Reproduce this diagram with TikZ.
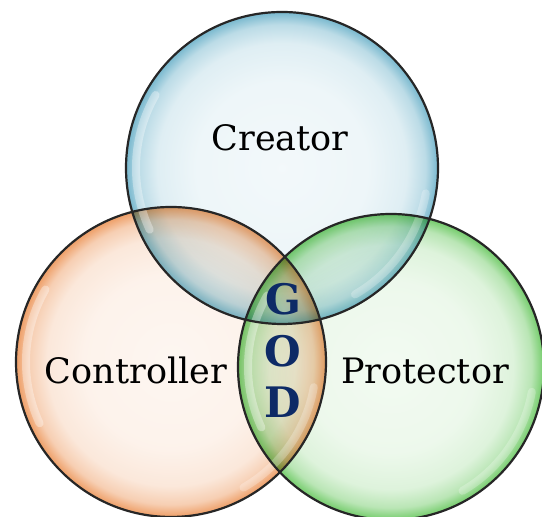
\documentclass[tikz,border=0pt]{standalone}
\usepackage{fontspec}
\setmainfont{DejaVu Serif}
\definecolor{creatorcol}{HTML}{78B8CE}
\definecolor{controlcol}{HTML}{EE9E66}
\definecolor{protectcol}{HTML}{74CC6B}
\definecolor{godblue}{HTML}{0D2A66}
\pgfdeclareradialshading{creatorshade}{\pgfpoint{0bp}{0bp}}{color(0bp)=(creatorcol!9!white); color(14bp)=(creatorcol!13!white); color(20bp)=(creatorcol!24!white); color(23bp)=(creatorcol!50!white); color(25bp)=(creatorcol); color(50bp)=(creatorcol)}
\pgfdeclareradialshading{controlshade}{\pgfpoint{0bp}{0bp}}{color(0bp)=(controlcol!9!white); color(14bp)=(controlcol!13!white); color(20bp)=(controlcol!24!white); color(23bp)=(controlcol!50!white); color(25bp)=(controlcol); color(50bp)=(controlcol)}
\pgfdeclareradialshading{protectshade}{\pgfpoint{0bp}{0bp}}{color(0bp)=(protectcol!9!white); color(14bp)=(protectcol!13!white); color(20bp)=(protectcol!24!white); color(23bp)=(protectcol!50!white); color(25bp)=(protectcol); color(50bp)=(protectcol)}
\begin{document}
\begin{tikzpicture}[x=0.5pt,y=0.5pt,
	bubble/.style={blend mode=multiply},
	rim/.style={draw=black!85,line width=1.1pt},
	gloss/.style={draw=white,line width=4pt,opacity=0.35,line cap=round},
	lbl/.style={font=\fontsize{17.5}{20}\selectfont,anchor=base},
	godtxt/.style={font=\bfseries\fontsize{21}{24}\selectfont,text=godblue,anchor=base}]
	\useasboundingbox (0,0) rectangle (542,517);
	\fill[white] (0,0) rectangle (542,517);
	\clip (0,0) rectangle (542,517);
	\coordinate (cre) at (282,349);
	\coordinate (con) at (171,155);
	\coordinate (pro) at (391,150);
	% the three bubbles
	\shade[bubble,shading=controlshade] (con) circle[radius=155];
	\shade[bubble,shading=protectshade] (pro) circle[radius=153];
	\shade[bubble,shading=creatorshade] (cre) circle[radius=156];
	\draw[gloss] ([shift={(150:146)}]cre) arc[start angle=150,end angle=205,radius=146];
	\draw[gloss] ([shift={(150:145)}]con) arc[start angle=150,end angle=205,radius=145];
	\draw[gloss] ([shift={(150:143)}]pro) arc[start angle=150,end angle=205,radius=143];
	\draw[gloss,opacity=0.25] ([shift={(-60:146)}]cre) arc[start angle=-60,end angle=-10,radius=146];
	\draw[gloss,opacity=0.25] ([shift={(-60:145)}]con) arc[start angle=-60,end angle=-10,radius=145];
	\draw[gloss,opacity=0.25] ([shift={(-60:143)}]pro) arc[start angle=-60,end angle=-10,radius=143];
	\draw[rim] (con) circle[radius=155] (pro) circle[radius=153] (cre) circle[radius=156];
	% labels
	\node[lbl] (creator) at (280,366) {Creator};
	\node[lbl] (controller) at (136,133) {Controller};
	\node[lbl] (protector) at (425,133) {Protector};
	\foreach \l/\y in {G/202,O/150,D/99}
		\node[godtxt] (god\l) at (283,\y) {\l};
\end{tikzpicture}
\end{document}
